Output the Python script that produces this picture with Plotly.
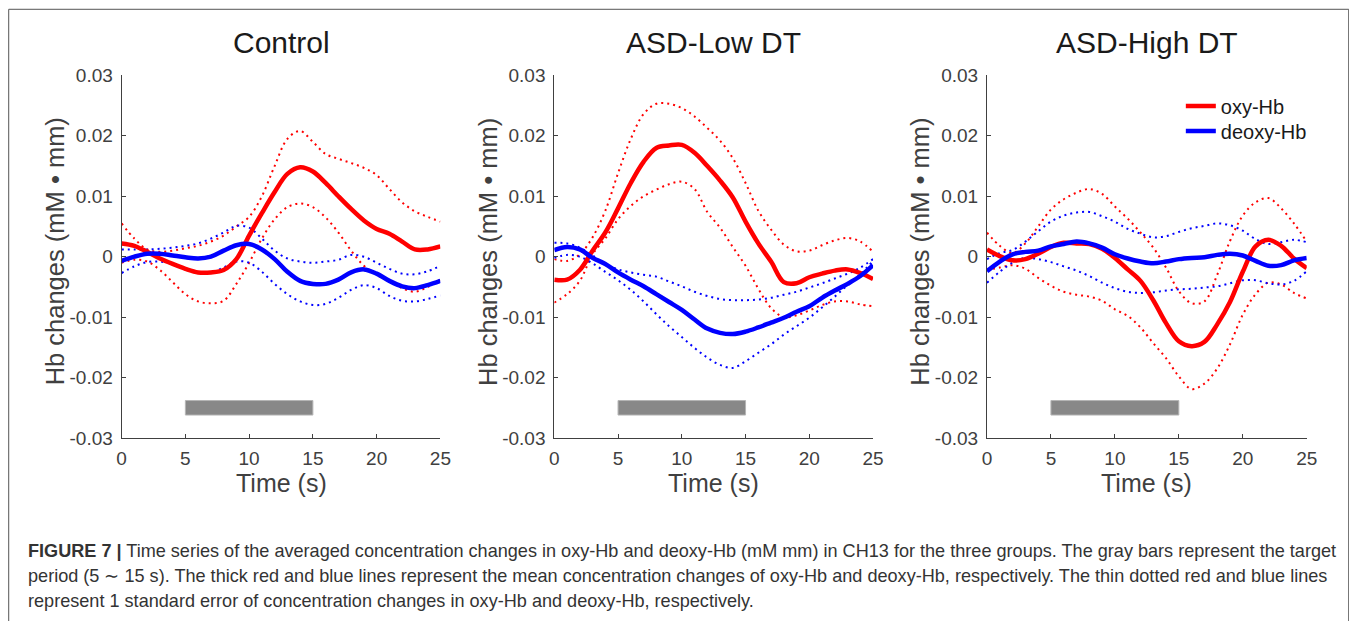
import plotly.graph_objects as go

# ---------------- data ----------------
time_s = list(range(26))

groups = ["Control", "ASD-Low DT", "ASD-High DT"]

control_oxy_mean = [0.0022, 0.0018, 0.0008, -0.0003, -0.0012, -0.0020, -0.0026, -0.0026, -0.0022, -0.0004,
                    0.0035, 0.0072, 0.0107, 0.0137, 0.0148, 0.0141, 0.0122, 0.0100, 0.0079, 0.0060,
                    0.0046, 0.0038, 0.0025, 0.0012, 0.0012, 0.0017]
control_oxy_upper = [0.0055, 0.0030, 0.0012, 0.0008, 0.0010, 0.0014, 0.0018, 0.0025, 0.0035, 0.0050,
                     0.0066, 0.0100, 0.0150, 0.0195, 0.0208, 0.0190, 0.0170, 0.0162, 0.0155, 0.0147,
                     0.0135, 0.0112, 0.0090, 0.0075, 0.0066, 0.0058]
control_oxy_lower = [-0.0010, -0.0005, -0.0008, -0.0022, -0.0042, -0.0062, -0.0074, -0.0077, -0.0073, -0.0045,
                     -0.0010, 0.0030, 0.0062, 0.0082, 0.0088, 0.0082, 0.0065, 0.0040, 0.0010, -0.0015,
                     -0.0030, -0.0040, -0.0052, -0.0058, -0.0050, -0.0038]
control_deoxy_mean = [-0.0007, 0.0000, 0.0005, 0.0005, 0.0002, -0.0001, -0.0003, 0.0000, 0.0010, 0.0019,
                      0.0021, 0.0012, -0.0004, -0.0025, -0.0040, -0.0045, -0.0045, -0.0038, -0.0026, -0.0021,
                      -0.0028, -0.0040, -0.0049, -0.0052, -0.0047, -0.0040]
control_deoxy_upper = [0.0012, 0.0012, 0.0012, 0.0013, 0.0015, 0.0018, 0.0022, 0.0030, 0.0040, 0.0051,
                       0.0048, 0.0030, 0.0010, -0.0003, -0.0008, -0.0010, -0.0008, -0.0005, 0.0003, 0.0000,
                       -0.0010, -0.0020, -0.0028, -0.0029, -0.0024, -0.0015]
control_deoxy_lower = [-0.0027, -0.0016, -0.0009, -0.0008, -0.0012, -0.0019, -0.0026, -0.0026, -0.0018, -0.0008,
                       -0.0010, -0.0025, -0.0045, -0.0062, -0.0074, -0.0080, -0.0078, -0.0068, -0.0055, -0.0047,
                       -0.0052, -0.0065, -0.0073, -0.0074, -0.0070, -0.0064]

low_oxy_mean = [-0.0038, -0.0038, -0.0022, 0.0010, 0.0040, 0.0080, 0.0122, 0.0157, 0.0180, 0.0184,
                0.0185, 0.0172, 0.0150, 0.0126, 0.0098, 0.0058, 0.0022, -0.0008, -0.0042, -0.0044,
                -0.0034, -0.0028, -0.0023, -0.0021, -0.0027, -0.0037]
low_oxy_upper = [-0.0004, -0.0007, 0.0004, 0.0032, 0.0076, 0.0138, 0.0195, 0.0236, 0.0253, 0.0253,
                 0.0246, 0.0232, 0.0213, 0.0192, 0.0163, 0.0122, 0.0076, 0.0045, 0.0020, 0.0009,
                 0.0010, 0.0019, 0.0027, 0.0031, 0.0025, 0.0008]
low_oxy_lower = [-0.0076, -0.0062, -0.0040, 0.0004, 0.0030, 0.0062, 0.0084, 0.0100, 0.0111, 0.0120,
                 0.0124, 0.0112, 0.0074, 0.0048, 0.0016, -0.0015, -0.0053, -0.0085, -0.0100, -0.0097,
                 -0.0089, -0.0080, -0.0074, -0.0074, -0.0079, -0.0082]
low_deoxy_mean = [0.0011, 0.0016, 0.0012, -0.0002, -0.0012, -0.0026, -0.0038, -0.0049, -0.0062, -0.0075,
                  -0.0088, -0.0104, -0.0119, -0.0126, -0.0128, -0.0124, -0.0117, -0.0109, -0.0101, -0.0091,
                  -0.0082, -0.0068, -0.0056, -0.0045, -0.0032, -0.0014]
low_deoxy_upper = [0.0023, 0.0022, 0.0015, 0.0002, -0.0012, -0.0021, -0.0026, -0.0030, -0.0033, -0.0041,
                   -0.0049, -0.0058, -0.0065, -0.0070, -0.0072, -0.0072, -0.0071, -0.0068, -0.0063, -0.0058,
                   -0.0051, -0.0044, -0.0036, -0.0028, -0.0018, -0.0004]
low_deoxy_lower = [-0.0002, 0.0003, 0.0000, -0.0011, -0.0025, -0.0039, -0.0055, -0.0074, -0.0095, -0.0115,
                   -0.0133, -0.0151, -0.0167, -0.0179, -0.0184, -0.0173, -0.0159, -0.0145, -0.0129, -0.0115,
                   -0.0101, -0.0084, -0.0066, -0.0047, -0.0029, -0.0007]

high_oxy_mean = [0.0012, 0.0001, -0.0006, -0.0004, 0.0005, 0.0016, 0.0023, 0.0022, 0.0021, 0.0013,
                 -0.0002, -0.0021, -0.0040, -0.0072, -0.0110, -0.0140, -0.0148, -0.0141, -0.0112, -0.0075,
                 -0.0025, 0.0017, 0.0028, 0.0018, -0.0003, -0.0019]
high_oxy_upper = [0.0040, 0.0018, 0.0006, 0.0022, 0.0050, 0.0078, 0.0095, 0.0106, 0.0112, 0.0104,
                  0.0083, 0.0063, 0.0040, 0.0015, -0.0018, -0.0057, -0.0077, -0.0074, -0.0030, 0.0026,
                  0.0068, 0.0090, 0.0097, 0.0080, 0.0055, 0.0025]
high_oxy_lower = [-0.0022, -0.0018, -0.0014, -0.0020, -0.0035, -0.0048, -0.0058, -0.0063, -0.0066, -0.0073,
                  -0.0087, -0.0098, -0.0117, -0.0143, -0.0168, -0.0198, -0.0219, -0.0210, -0.0185, -0.0145,
                  -0.0096, -0.0062, -0.0043, -0.0046, -0.0060, -0.0069]
high_deoxy_mean = [-0.0024, -0.0008, 0.0004, 0.0008, 0.0010, 0.0017, 0.0021, 0.0025, 0.0022, 0.0015,
                   0.0004, -0.0003, -0.0008, -0.0011, -0.0008, -0.0004, -0.0002, -0.0001, 0.0003, 0.0005,
                   0.0002, -0.0007, -0.0015, -0.0014, -0.0006, -0.0002]
high_deoxy_upper = [-0.0004, 0.0006, 0.0011, 0.0025, 0.0042, 0.0058, 0.0068, 0.0073, 0.0074, 0.0067,
                    0.0058, 0.0046, 0.0038, 0.0032, 0.0034, 0.0041, 0.0047, 0.0051, 0.0055, 0.0052,
                    0.0043, 0.0029, 0.0021, 0.0024, 0.0028, 0.0024]
high_deoxy_lower = [-0.0043, -0.0025, -0.0010, -0.0002, -0.0004, -0.0009, -0.0016, -0.0023, -0.0032, -0.0043,
                    -0.0052, -0.0058, -0.0060, -0.0059, -0.0056, -0.0054, -0.0053, -0.0051, -0.0049, -0.0044,
                    -0.0039, -0.0039, -0.0044, -0.0046, -0.0040, -0.0024]

target_period = [5, 15]
target_bar_level = [-0.0262, -0.0238]

x_tick_vals = [0, 5, 10, 15, 20, 25]
y_tick_vals = [-0.03, -0.02, -0.01, 0, 0.01, 0.02, 0.03]
y_tick_text = ["-0.03", "-0.02", "-0.01", "0", "0.01", "0.02", "0.03"]

series = [
    (control_oxy_mean, control_oxy_upper, control_oxy_lower,
     control_deoxy_mean, control_deoxy_upper, control_deoxy_lower),
    (low_oxy_mean, low_oxy_upper, low_oxy_lower,
     low_deoxy_mean, low_deoxy_upper, low_deoxy_lower),
    (high_oxy_mean, high_oxy_upper, high_oxy_lower,
     high_deoxy_mean, high_deoxy_upper, high_deoxy_lower),
]

caption_lines = [
    "<b>FIGURE 7 |</b> Time series of the averaged concentration changes in oxy-Hb and deoxy-Hb (mM mm) in CH13 for the three groups. The gray bars represent the target",
    "period (5 \u223c 15 s). The thick red and blue lines represent the mean concentration changes of oxy-Hb and deoxy-Hb, respectively. The thin dotted red and blue lines",
    "represent 1 standard error of concentration changes in oxy-Hb and deoxy-Hb, respectively.",
]

# ---------------- layout helpers ----------------
W, H = 1357, 621
# observed placement of the figure paper inside the captured picture
PL, PT, PW, PH = 12.3, 17.7, 1342.0, 599.0
FONT = "Liberation Sans, Arial, Helvetica, sans-serif"
RED = "#ff0000"
BLUE = "#0000ff"
AX = "#404040"


def px(x):
    return (x - PL) / PW


def py(y):
    return 1 - (y - PT) / PH


x_domains = [(121, 440), (554, 873), (987, 1307)]
y_domain = [py(437), py(75)]

fig = go.Figure()

for i, (om, ou, ol, dm, du, dl) in enumerate(series):
    xa = "x" if i == 0 else f"x{i+1}"
    ya = "y" if i == 0 else f"y{i+1}"
    dot = dict(width=2, dash="2px,4px")
    for vals, col in [(ou, RED), (ol, RED), (du, BLUE), (dl, BLUE)]:
        fig.add_trace(go.Scatter(x=time_s, y=vals, mode="lines", xaxis=xa, yaxis=ya,
                                 line=dict(color=col, shape="spline", smoothing=1, **dot),
                                 showlegend=False, hoverinfo="skip"))
    fig.add_trace(go.Scatter(x=time_s, y=om, mode="lines", xaxis=xa, yaxis=ya, name="oxy-Hb",
                             line=dict(color=RED, width=4.5, shape="spline", smoothing=1),
                             showlegend=(i == 2), legend="legend"))
    fig.add_trace(go.Scatter(x=time_s, y=dm, mode="lines", xaxis=xa, yaxis=ya, name="deoxy-Hb",
                             line=dict(color=BLUE, width=4.5, shape="spline", smoothing=1),
                             showlegend=(i == 2), legend="legend2"))
    fig.add_shape(type="rect", xref=xa, yref=ya,
                  x0=target_period[0], x1=target_period[1],
                  y0=target_bar_level[0], y1=target_bar_level[1],
                  fillcolor="#888888", line=dict(color="#b5b5b5", width=1))

axis_common = dict(showline=True, linecolor=AX, linewidth=1, ticks="inside", ticklen=4,
                   tickcolor=AX, showgrid=False, zeroline=False, mirror=False,
                   tickfont=dict(family=FONT, size=19, color=AX))

layout_axes = {}
for i, (x0, x1) in enumerate(x_domains):
    sx = "" if i == 0 else str(i + 1)
    layout_axes[f"xaxis{sx}"] = dict(domain=[px(x0), px(x1)], range=[0, 25],
                                     tickvals=x_tick_vals, anchor=f"y{sx}",
                                     ticklabelstandoff=3, **axis_common)
    layout_axes[f"yaxis{sx}"] = dict(domain=y_domain, range=[-0.03, 0.03],
                                     tickvals=y_tick_vals, ticktext=y_tick_text,
                                     anchor=f"x{sx}", ticklabelstandoff=4, **axis_common)

annotations = []
for i, (x0, x1) in enumerate(x_domains):
    cx = (x0 + x1) / 2
    annotations.append(dict(text=groups[i], x=px(cx), y=py(42), xref="paper", yref="paper",
                            xanchor="center", yanchor="middle", showarrow=False,
                            font=dict(family=FONT, size=30, color="#1a1a1a")))
    annotations.append(dict(text="Time (s)", x=px(cx), y=py(482), xref="paper", yref="paper",
                            xanchor="center", yanchor="middle", showarrow=False,
                            font=dict(family=FONT, size=25, color=AX)))
    annotations.append(dict(text="Hb changes (mM \u2022 mm)", x=px(x0 - 67), y=py(251),
                            xref="paper", yref="paper", xanchor="center", yanchor="middle",
                            textangle=-90, showarrow=False,
                            font=dict(family=FONT, size=25.5, color=AX)))

for k, line in enumerate(caption_lines):
    annotations.append(dict(text=line, x=px(25), y=py(550 + 25 * k), xref="paper", yref="paper",
                            xanchor="left", yanchor="middle", showarrow=False,
                            font=dict(family=FONT, size=18.1, color="#333333")))

fig.add_shape(type="rect", xref="paper", yref="paper", x0=px(8), x1=px(1349),
              y0=py(660), y1=py(9), line=dict(color="#555555", width=1), fillcolor="rgba(0,0,0,0)")

legend_common = dict(xanchor="left", yanchor="top", bgcolor="rgba(0,0,0,0)", borderwidth=0,
                     font=dict(family=FONT, size=20, color="#1a1a1a"))

fig.update_layout(
    width=W, height=H, autosize=False,
    margin=dict(l=0, r=0, t=0, b=0),
    paper_bgcolor="white", plot_bgcolor="white",
    font=dict(family=FONT, color=AX),
    annotations=annotations,
    legend=dict(x=px(1181), y=py(86), **legend_common),
    legend2=dict(x=px(1181), y=py(111), **legend_common),
    **layout_axes,
)

fig.write_html("out.html")
